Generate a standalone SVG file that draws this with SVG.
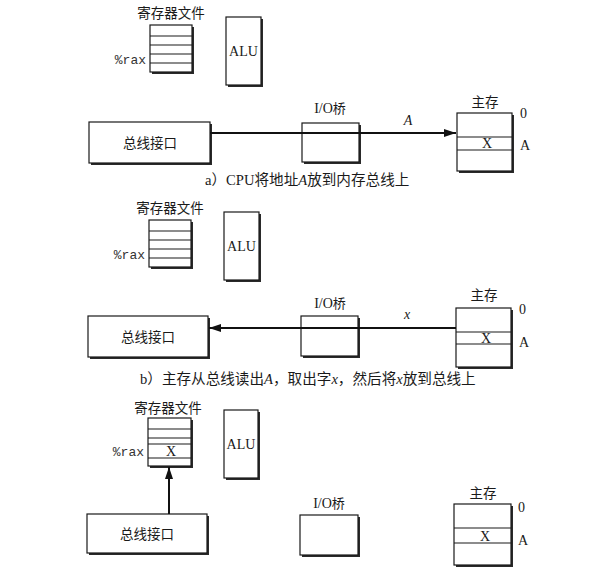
<svg xmlns="http://www.w3.org/2000/svg" width="610" height="569" viewBox="0 0 610 569">
<style>
.bg{fill:#ffffff}
.box{fill:#ffffff;stroke:#1a1a1a;stroke-width:1.2}
.sh{fill:#2a2a2a}
.row{stroke:#1a1a1a;stroke-width:1.1}
.cjk{font-family:"Noto Sans CJK SC","Noto Sans",sans-serif;font-size:13.5px;fill:#1a1a1a}
.ser{font-family:"Liberation Serif","Noto Sans CJK SC",serif;font-size:14px;fill:#1a1a1a}
.mono{font-family:"Liberation Mono",monospace;font-size:13px;fill:#333333}
.cap{font-family:"Liberation Serif","Noto Sans CJK SC",serif;font-size:14.6px;fill:#1a1a1a}
.conn{stroke:#111111;stroke-width:2;fill:none}
</style>
<defs>
<marker id="ah" viewBox="0 0 12 8" refX="12" refY="4" markerWidth="12" markerHeight="8" markerUnits="userSpaceOnUse" orient="auto">
<path d="M0,0 L12,4 L0,8 z" fill="#111111"/>
</marker>
</defs>
<rect class="bg" x="0" y="0" width="610" height="569"/>

<!-- Panel a -->
<g id="regfile-a">
<text class="cjk" x="171" y="18" text-anchor="middle" font-size="14">寄存器文件</text>
<rect class="sh" x="152" y="27" width="42" height="47"/>
<rect class="box" x="150" y="25" width="42" height="47"/>
<line class="row" x1="150" y1="36" x2="192" y2="36"/>
<line class="row" x1="150" y1="45" x2="192" y2="45"/>
<line class="row" x1="150" y1="54" x2="192" y2="54"/>
<line class="row" x1="150" y1="63" x2="192" y2="63"/>
<text class="mono" x="146" y="64" text-anchor="end">%rax</text>
</g>
<g id="alu-a">
<rect class="sh" x="228" y="19" width="35" height="68"/>
<rect class="box" x="226" y="17" width="35" height="68"/>
<text class="ser" x="243.5" y="56" text-anchor="middle">ALU</text>
</g>
<g id="bus-a">
<rect class="sh" x="91" y="124" width="121" height="41"/>
<rect class="box" x="89" y="122" width="121" height="41"/>
<text class="cjk" x="150" y="148" text-anchor="middle">总线接口</text>
</g>
<g id="io-a">
<text class="ser" x="330" y="113" text-anchor="middle">I/O<tspan font-family="Noto Sans CJK SC" font-size="13">桥</tspan></text>
<rect class="sh" x="304" y="125" width="57" height="39"/>
<rect class="box" x="302" y="123" width="57" height="39"/>
</g>
<g id="mem-a">
<text class="cjk" x="485" y="107" text-anchor="middle">主存</text>
<rect class="sh" x="459" y="115" width="55" height="58"/>
<rect class="box" x="457" y="113" width="55" height="58"/>
<line class="row" x1="457" y1="137" x2="512" y2="137"/>
<line class="row" x1="457" y1="150" x2="512" y2="150"/>
<text class="ser" x="487" y="148" text-anchor="middle">X</text>
<text class="ser" x="520" y="118">0</text>
<text class="ser" x="520" y="150">A</text>
</g>
<text class="cap" x="205" y="185">a）CPU将地址<tspan font-style="italic">A</tspan>放到内存总线上</text>

<!-- Panel b -->
<g id="regfile-b">
<text class="cjk" x="170" y="213" text-anchor="middle" font-size="14">寄存器文件</text>
<rect class="sh" x="151" y="222" width="42" height="47"/>
<rect class="box" x="149" y="220" width="42" height="47"/>
<line class="row" x1="149" y1="231" x2="191" y2="231"/>
<line class="row" x1="149" y1="240" x2="191" y2="240"/>
<line class="row" x1="149" y1="249" x2="191" y2="249"/>
<line class="row" x1="149" y1="258" x2="191" y2="258"/>
<text class="mono" x="145" y="259" text-anchor="end">%rax</text>
</g>
<g id="alu-b">
<rect class="sh" x="226" y="214" width="35" height="68"/>
<rect class="box" x="224" y="212" width="35" height="68"/>
<text class="ser" x="241.5" y="251" text-anchor="middle">ALU</text>
</g>
<g id="bus-b">
<rect class="sh" x="90" y="318" width="120" height="41"/>
<rect class="box" x="88" y="316" width="120" height="41"/>
<text class="cjk" x="148" y="342" text-anchor="middle">总线接口</text>
</g>
<g id="io-b">
<text class="ser" x="330" y="308" text-anchor="middle">I/O<tspan font-family="Noto Sans CJK SC" font-size="13">桥</tspan></text>
<rect class="sh" x="303" y="318" width="57" height="40"/>
<rect class="box" x="301" y="316" width="57" height="40"/>
</g>
<g id="mem-b">
<text class="cjk" x="484" y="300" text-anchor="middle">主存</text>
<rect class="sh" x="458" y="310" width="55" height="59"/>
<rect class="box" x="456" y="308" width="55" height="59"/>
<line class="row" x1="456" y1="332" x2="511" y2="332"/>
<line class="row" x1="456" y1="344" x2="511" y2="344"/>
<text class="ser" x="486" y="343" text-anchor="middle">X</text>
<text class="ser" x="519" y="314">0</text>
<text class="ser" x="519" y="347">A</text>
</g>
<text class="cap" x="140" y="384">b）主存从总线读出<tspan font-style="italic">A</tspan>，取出字<tspan font-style="italic">x</tspan>，然后将<tspan font-style="italic">x</tspan>放到总线上</text>

<!-- Panel c -->
<g id="regfile-c">
<text class="cjk" x="168" y="413" text-anchor="middle" font-size="14">寄存器文件</text>
<rect class="sh" x="150" y="420" width="43" height="48"/>
<rect class="box" x="148" y="418" width="43" height="48"/>
<line class="row" x1="148" y1="429" x2="191" y2="429"/>
<line class="row" x1="148" y1="438" x2="191" y2="438"/>
<line class="row" x1="148" y1="444" x2="191" y2="444"/>
<line class="row" x1="148" y1="458" x2="191" y2="458"/>
<text class="mono" x="144" y="456" text-anchor="end">%rax</text>
<text class="ser" x="171" y="456" text-anchor="middle">X</text>
</g>
<g id="alu-c">
<rect class="sh" x="226" y="412" width="34" height="68"/>
<rect class="box" x="224" y="410" width="34" height="68"/>
<text class="ser" x="241" y="449" text-anchor="middle">ALU</text>
</g>
<g id="bus-c">
<rect class="sh" x="89" y="516" width="120" height="39"/>
<rect class="box" x="87" y="514" width="120" height="39"/>
<text class="cjk" x="147" y="539" text-anchor="middle">总线接口</text>
</g>
<g id="io-c">
<text class="ser" x="329" y="508" text-anchor="middle">I/O<tspan font-family="Noto Sans CJK SC" font-size="13">桥</tspan></text>
<rect class="sh" x="302" y="517" width="58" height="40"/>
<rect class="box" x="300" y="515" width="58" height="40"/>
</g>
<g id="mem-c">
<text class="cjk" x="483" y="498" text-anchor="middle">主存</text>
<rect class="sh" x="456" y="506" width="57" height="61"/>
<rect class="box" x="454" y="504" width="57" height="61"/>
<line class="row" x1="454" y1="528" x2="511" y2="528"/>
<line class="row" x1="454" y1="543" x2="511" y2="543"/>
<text class="ser" x="485" y="541" text-anchor="middle">X</text>
<text class="ser" x="518" y="512">0</text>
<text class="ser" x="518" y="545">A</text>
</g>

<g id="connectors">
<line class="conn" x1="210" y1="133" x2="456" y2="133" marker-end="url(#ah)"/>
<text class="ser" x="408" y="125" text-anchor="middle" font-style="italic">A</text>
<line class="conn" x1="456" y1="328" x2="209" y2="328" marker-end="url(#ah)"/>
<text class="ser" x="407" y="319" text-anchor="middle" font-style="italic">x</text>
<line class="conn" x1="169" y1="514" x2="169" y2="467" marker-end="url(#ah)"/>
</g>
</svg>
